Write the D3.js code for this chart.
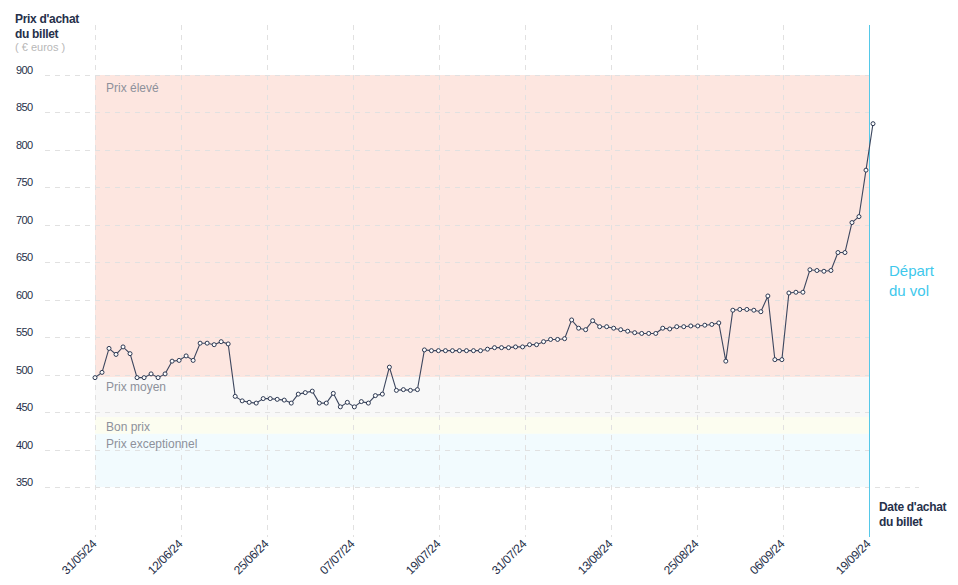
<!DOCTYPE html>
<html><head><meta charset="utf-8">
<script src="https://cdn.jsdelivr.net/npm/d3@7"></script>
<style>
html,body{margin:0;padding:0;background:#fff;}
svg{display:block;font-family:"Liberation Sans",Arial,sans-serif;}
</style></head>
<body><svg id="c" width="958" height="585"></svg>
<script>
// ---- data ----
const prices = [496,503,535,527,537,528,496,496,501,496,
501,518,519,525,519,542,542,540,544,541,
471,465,463,462,468,468,467,466,462,474,
476,478,462,462,475,457,463,457,464,462,
472,474,510,479,480,479,480,533,532,532,
532,532,532,532,532,532,534,536,536,536,
537,537,540,540,544,547,547,548,573,562,
560,572,564,564,562,560,558,556,555,555,
555,562,561,564,564,565,565,566,567,569,
518,586,587,587,586,584,605,520,520,609,
610,610,640,639,638,639,663,663,703,711,
773,835];
const xTickLabels = ["31/05/24","12/06/24","25/06/24","07/07/24","19/07/24","31/07/24","13/08/24","25/08/24","06/09/24","19/09/24"];
const yTicks = [350,400,450,500,550,600,650,700,750,800,850,900];
const bandNames = ["Prix élevé","Prix moyen","Bon prix","Prix exceptionnel"];
const bandTops = [900,496.5,443.5,421];
const bandBottoms = [496.5,443.5,421,350];
const bandColors = ["#fde6e0","#f8f8f8","#fcfdf0","#f2fbfe"];

// ---- layout ----
const svg = d3.select("#c");
const plotL = 95, plotR = 869, gridL = 45, plotT = 25, plotB = 537;
const y = d3.scaleLinear().domain([350,900]).range([487,75]);
const xTick = d3.scalePoint().domain(xTickLabels).range([plotL,plotR]);
const x = d3.scaleLinear().domain([0,prices.length-1]).range([95,873]);

// bands
svg.append("g").selectAll("rect").data(bandNames).join("rect")
  .attr("x", plotL).attr("width", plotR-plotL)
  .attr("y", (d,i)=>y(bandTops[i]))
  .attr("height", (d,i)=>y(bandBottoms[i])-y(bandTops[i]))
  .attr("fill", (d,i)=>bandColors[i]);

// horizontal grid
svg.append("g").selectAll("line").data(yTicks).join("line")
  .attr("x1", gridL).attr("x2", d=> d===350 ? 919 : plotR)
  .attr("y1", d=>Math.round(y(d))+0.5).attr("y2", d=>Math.round(y(d))+0.5)
  .attr("stroke","#e1e1e1").attr("stroke-width",1).attr("stroke-dasharray","5,5");

// vertical grid
svg.append("g").selectAll("line").data(xTickLabels.slice(0,-1)).join("line")
  .attr("x1", d=>Math.round(xTick(d))+0.5).attr("x2", d=>Math.round(xTick(d))+0.5)
  .attr("y1", plotT).attr("y2", plotB)
  .attr("stroke","#e1e1e1").attr("stroke-width",1).attr("stroke-dasharray","5,5");

// band labels
svg.append("g").selectAll("text").data(bandNames).join("text")
  .attr("x", 106).attr("y", (d,i)=>y(bandTops[i]) + (i===0?16.5:14))
  .attr("font-size", 12).attr("fill","#8d919b").text(d=>d);

// y tick labels
svg.append("g").selectAll("text").data(yTicks).join("text")
  .attr("x", 16).attr("y", d=>y(d)-1)
  .attr("font-size", 11).attr("fill","#26304a").attr("letter-spacing","-0.6")
  .text(d=>d);

// x tick labels
svg.append("g").selectAll("text").data(xTickLabels).join("text")
  .attr("transform", d=>`translate(${xTick(d)+2},${plotB+8}) rotate(-45)`)
  .attr("text-anchor","end")
  .attr("font-size", 12).attr("fill","#26304a").attr("letter-spacing","-0.5")
  .text(d=>d);

// departure line
const dep = Math.round(xTick(xTickLabels[xTickLabels.length-1]))+0.5;
svg.append("line").attr("x1",dep).attr("x2",dep).attr("y1",plotT).attr("y2",plotB)
  .attr("stroke","#55c8e8").attr("stroke-width",1);

// price line
svg.append("path").datum(prices)
  .attr("d", d3.line().x((d,i)=>x(i)).y(d=>y(d)))
  .attr("fill","none").attr("stroke","#3d475f").attr("stroke-width",1.1);
svg.append("g").selectAll("circle").data(prices).join("circle")
  .attr("cx",(d,i)=>x(i)).attr("cy",d=>y(d)).attr("r",2)
  .attr("fill","#fff").attr("stroke","#2c3852").attr("stroke-width",1);

// titles
const t = svg.append("text").attr("x",15).attr("font-size",12).attr("font-weight","bold")
  .attr("fill","#26304a").attr("letter-spacing","-0.3");
t.append("tspan").attr("x",15).attr("y",23).text("Prix d'achat");
t.append("tspan").attr("x",15).attr("y",38).text("du billet");
svg.append("text").attr("x",15).attr("y",51).attr("font-size",11).attr("fill","#b8b8b8")
  .text("( € euros )");

const t2 = svg.append("text").attr("font-size",12).attr("font-weight","bold")
  .attr("fill","#26304a").attr("letter-spacing","-0.3");
t2.append("tspan").attr("x",879).attr("y",511).text("Date d'achat");
t2.append("tspan").attr("x",879).attr("y",526).text("du billet");

const t3 = svg.append("text").attr("font-size",15).attr("fill","#3ec8ec");
t3.append("tspan").attr("x",889).attr("y",276).text("Départ");
t3.append("tspan").attr("x",889).attr("y",296).text("du vol");
</script></body></html>
